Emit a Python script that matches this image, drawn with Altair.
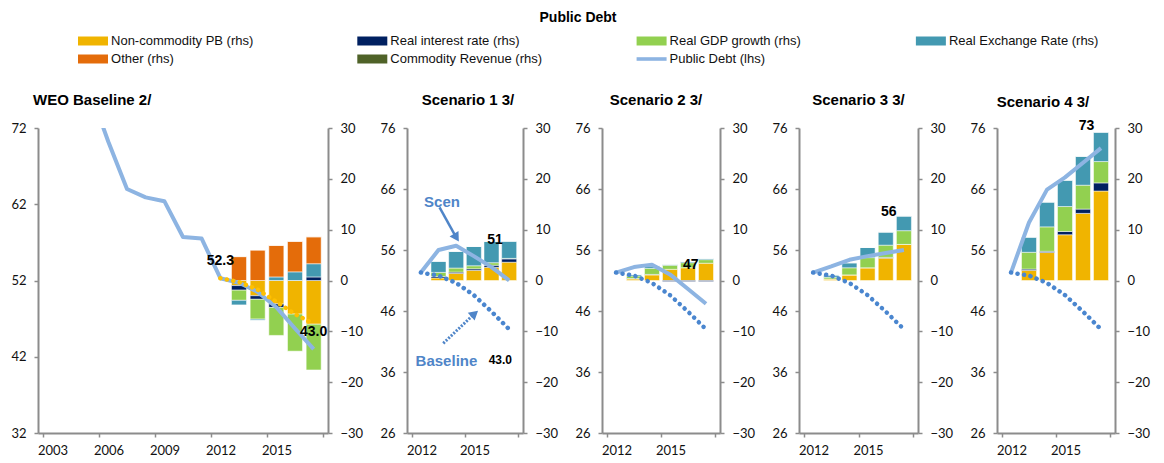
import altair as alt
import pandas as pd

# ---------------- data ----------------
SERIES = ["Non-commodity PB (rhs)", "Real interest rate (rhs)", "Real GDP growth (rhs)",
          "Real Exchange Rate (rhs)", "Other (rhs)", "Commodity Revenue (rhs)"]
COLORS = ["#F0B400", "#002060", "#92D050", "#4399B1", "#E46C0A", "#4F6228"]
DEBT_LABEL = "Public Debt (lhs)"
DEBT_COLOR = "#8DB4E2"
BASE_DOT_COLOR = "#4A86CF"
WEO_DOT_COLOR = "#FFC000"
NOTE_COLOR = "#4F85C8"

hist_years = list(range(2003, 2018))
proj_years = list(range(2012, 2018))
bar_years = list(range(2013, 2018))

weo_debt = [86.0, 82.0, 77.0, 70.2, 64.0, 62.9, 62.4, 57.7, 57.5, 52.3, 51.7, 50.5, 48.5, 45.7, 43.0]
weo_dotted = [52.3, 51.8, 50.8, 49.2, 47.6, 46.3]
baseline_debt = [52.3, 51.8, 50.6, 48.6, 45.9, 43.0]

weo_pb = [-1.0, -3.0, -4.6, -6.6, -8.6]
weo_int = [-0.9, -0.7, -0.7, 0.0, 0.7]
weo_gdp = [-2.0, -3.9, -5.5, -7.3, -9.0]
weo_rer = [-0.9, -0.2, 0.7, 1.7, 2.6]
weo_oth = [4.7, 6.0, 6.2, 6.0, 5.3]
weo_com = [0.0, 0.0, 0.0, 0.0, 0.0]

s1_debt = [52.3, 56.0, 56.7, 55.0, 53.2, 51.0]
s1_pb = [0.5, 1.4, 2.0, 2.6, 3.6]
s1_int = [0.3, 0.25, 0.3, 0.4, 0.65]
s1_gdp = [0.8, 0.8, 0.6, 0.5, 0.1]
s1_rer = [2.2, 3.3, 3.8, 4.2, 3.4]

s2_debt = [52.3, 53.2, 53.6, 52.0, 49.6, 47.2]
s2_pb = [0.3, 1.1, 2.2, 2.5, 3.4]
s2_int = [0.1, 0.1, -0.2, -0.2, -0.2]
s2_gdp = [0.5, 1.2, 0.8, 1.0, 0.7]
s2_rer = [0.3, 0.5, 0.2, 0.25, 0.25]

s3_debt = [52.3, 53.3, 54.4, 55.0, 55.5, 56.0]
s3_pb = [0.3, 1.1, 2.5, 4.4, 7.1]
s3_int = [0.0, 0.0, 0.0, 0.15, 0.0]
s3_gdp = [0.35, 1.4, 2.0, 2.4, 2.7]
s3_rer = [0.45, 1.0, 2.0, 2.6, 2.9]

s4_debt = [52.3, 60.5, 65.9, 67.9, 70.3, 72.7]
s4_pb = [2.0, 5.5, 9.0, 13.2, 17.6]
s4_int = [0.25, 0.25, 0.65, 0.85, 1.6]
s4_gdp = [3.3, 4.8, 4.9, 4.7, 4.2]
s4_rer = [3.0, 4.9, 5.2, 5.7, 5.8]

zeros = [0.0, 0.0, 0.0, 0.0, 0.0]

panel_titles = ["WEO Baseline 2/", "Scenario 1 3/", "Scenario 2 3/", "Scenario 3 3/", "Scenario 4 3/"]

# value labels: (x in years, y in lhs units, text)
weo_lab_x = [2012.0, 2017.0]
weo_lab_y = [54.6, 45.3]
weo_lab_t = ["52.3", "43.0"]
s1_lab_x = [2016.2, 2016.5]
s1_lab_y = [57.6, 37.9]
s1_lab_t = ["51", "43.0"]
s2_lab_x = [2016.15]
s2_lab_y = [53.6]
s2_lab_t = ["47"]
s3_lab_x = [2016.17]
s3_lab_y = [62.3]
s3_lab_t = ["56"]
s4_lab_x = [2016.2]
s4_lab_y = [76.3]
s4_lab_t = ["73"]

# scenario 1 annotations
note_x = [2013.2, 2013.45]
note_y = [63.9, 37.8]
note_t = ["Scen", "Baseline"]
scen_arrow = {"x": 2013.06, "y": 63.0, "x2": 2013.97, "y2": 58.25}
base_arrow = {"x": 2013.27, "y": 40.7, "x2": 2014.98, "y2": 45.4}

# legend layout
leg_col = [0, 1, 2, 3, 0, 1, 2]
leg_row = [0, 0, 0, 0, 1, 1, 1]

NUM_FONT = "Lato"
TXT_FONT = "Liberation Sans"
AX_COLOR = "#8C8C8C"

# ---------------- helpers ----------------
def contrib_df(pb, it, gdp, rer, oth, com):
    rows = []
    for idx, (name, vals) in enumerate(zip(SERIES, [pb, it, gdp, rer, oth, com])):
        for yr, v in zip(bar_years, vals):
            rows.append({"year": yr, "series": name, "idx": idx, "value": v})
    return pd.DataFrame(rows)


def line_df(years, vals):
    return pd.DataFrame({"year": years, "value": vals})


def axis_style():
    return dict(domainColor=AX_COLOR, domainWidth=2, tickColor=AX_COLOR, tickWidth=1.5,
                tickSize=4, labelFont=NUM_FONT, labelFontSize=13, labelColor="#111111",
                grid=False, title=None)


def make_panel(title, title_anchor, title_dx, title_offset, width, x_dom, x_ticks, y_dom, y_ticks,
               debt, dotted, dotted_color, bars, labels, extra=None):
    xscale = alt.Scale(domain=x_dom, nice=False, zero=False)
    last = x_dom[1]
    xaxis = alt.Axis(values=x_ticks,
                     labelExpr="datum.value >= %s ? '' : toString(datum.value + 0.5)" % last,
                     labelOffset=9.5, labelFlush=False, labelOverlap=False,
                     labelPadding=7, **axis_style())
    X = alt.X("year:Q", scale=xscale, axis=xaxis)
    laxis = alt.Axis(orient="left", values=y_ticks, labelPadding=8, **axis_style())
    raxis = alt.Axis(orient="right", values=[-30, -20, -10, 0, 10, 20, 30], labelPadding=8, **axis_style())
    lscale = alt.Scale(domain=y_dom, nice=False, zero=False)
    LY = alt.Y("value:Q", scale=lscale, axis=laxis)

    bar_layer = alt.Chart(bars).mark_bar(size=15, stroke="white", strokeWidth=0.5).encode(
        x=X,
        y=alt.Y("value:Q", stack="zero", scale=alt.Scale(domain=[-30, 30], nice=False, zero=False), axis=raxis),
        color=alt.Color("series:N", scale=alt.Scale(domain=SERIES, range=COLORS), legend=None),
        order=alt.Order("idx:Q", sort="ascending"),
    )
    debt_layer = alt.Chart(debt).mark_line(color=DEBT_COLOR, strokeWidth=4, clip=True,
                                           strokeJoin="round").encode(x=X, y=LY)
    dot_layer = alt.Chart(dotted).mark_line(color=dotted_color, strokeWidth=4.5, strokeDash=[0.1, 6.5],
                                            strokeCap="round", clip=True).encode(x=X, y=LY)
    lab_layer = alt.Chart(labels).mark_text(font=TXT_FONT, fontWeight="bold", color="#000000").encode(
        x=X, y=LY, text="label:N", size=alt.Size("fs:Q", scale=None))
    inner = [debt_layer, dot_layer]
    if extra is not None:
        inner += extra(xscale, xaxis, lscale, laxis)
    inner.append(lab_layer)
    chart = alt.layer(bar_layer, alt.layer(*inner)).resolve_scale(y="independent").properties(
        width=width, height=305,
        title=alt.TitleParams(title, anchor=title_anchor, frame="group", font=TXT_FONT, fontSize=15,
                              fontWeight="bold", color="#000000", dx=title_dx, offset=title_offset))
    return chart


def labels_df(xs, ys, ts, sizes=None):
    if sizes is None:
        sizes = [14] * len(xs)
    return pd.DataFrame({"year": xs, "value": ys, "label": ts, "fs": sizes})


def scen1_notes(xscale, xaxis, lscale, laxis):
    notes = pd.DataFrame({"year": note_x, "value": note_y, "label": note_t})
    note_text = alt.Chart(notes).mark_text(font=TXT_FONT, fontWeight="bold", fontSize=15,
                                           color=NOTE_COLOR).encode(
        x=alt.X("year:Q", scale=xscale, axis=xaxis),
        y=alt.Y("value:Q", scale=lscale, axis=laxis), text="label:N")
    sa = pd.DataFrame([scen_arrow])
    ba = pd.DataFrame([base_arrow])
    sx = alt.X("x:Q", scale=xscale, axis=xaxis)
    sy = alt.Y("y:Q", scale=lscale, axis=laxis)
    hx = alt.X("x2:Q", scale=xscale, axis=xaxis)
    hy = alt.Y("y2:Q", scale=lscale, axis=laxis)
    scen_shaft = alt.Chart(sa).mark_rule(color=NOTE_COLOR, strokeWidth=2.5).encode(
        x=sx, y=sy, x2=alt.X2("x2:Q"), y2=alt.Y2("y2:Q"))
    base_shaft = alt.Chart(ba).mark_rule(color=NOTE_COLOR, strokeWidth=3, strokeDash=[2, 1.5]).encode(
        x=sx, y=sy, x2=alt.X2("x2:Q"), y2=alt.Y2("y2:Q"))
    scen_head = alt.Chart(sa).mark_point(shape="triangle", filled=True, size=110, angle=148,
                                         color=NOTE_COLOR, opacity=1).encode(x=hx, y=hy)
    base_head = alt.Chart(ba).mark_point(shape="triangle", filled=True, size=110, angle=49,
                                         color=NOTE_COLOR, opacity=1).encode(x=hx, y=hy)
    return [scen_shaft, scen_head, base_shaft, base_head, note_text]


# ---------------- panels ----------------
p0 = make_panel(panel_titles[0], "start", -5, 14, 290, [2002.5, 2017.5],
                [2002.5, 2005.5, 2008.5, 2011.5, 2014.5, 2017.5],
                [32, 72], [32, 42, 52, 62, 72],
                line_df(hist_years, weo_debt), line_df(proj_years, weo_dotted), WEO_DOT_COLOR,
                contrib_df(weo_pb, weo_int, weo_gdp, weo_rer, weo_oth, weo_com),
                labels_df(weo_lab_x, weo_lab_y, weo_lab_t))

sc_ticks_x = [2011.5, 2014.5, 2017.5]
sc_ticks_y = [26, 36, 46, 56, 66, 76]
p1 = make_panel(panel_titles[1], "middle", 3, 14, 116, [2011.5, 2017.5], sc_ticks_x, [26, 76], sc_ticks_y,
                line_df(proj_years, s1_debt), line_df(proj_years, baseline_debt), BASE_DOT_COLOR,
                contrib_df(s1_pb, s1_int, s1_gdp, s1_rer, zeros, zeros),
                labels_df(s1_lab_x, s1_lab_y, s1_lab_t, [14, 12]), extra=scen1_notes)
p2 = make_panel(panel_titles[2], "middle", -5, 14, 118, [2011.5, 2017.5], sc_ticks_x, [26, 76], sc_ticks_y,
                line_df(proj_years, s2_debt), line_df(proj_years, baseline_debt), BASE_DOT_COLOR,
                contrib_df(s2_pb, s2_int, s2_gdp, s2_rer, zeros, zeros),
                labels_df(s2_lab_x, s2_lab_y, s2_lab_t))
p3 = make_panel(panel_titles[3], "middle", 0, 14, 119, [2011.5, 2017.5], sc_ticks_x, [26, 76], sc_ticks_y,
                line_df(proj_years, s3_debt), line_df(proj_years, baseline_debt), BASE_DOT_COLOR,
                contrib_df(s3_pb, s3_int, s3_gdp, s3_rer, zeros, zeros),
                labels_df(s3_lab_x, s3_lab_y, s3_lab_t))
p4 = make_panel(panel_titles[4], "middle", -13, 9, 118, [2011.5, 2017.5], sc_ticks_x, [26, 76], sc_ticks_y,
                line_df(proj_years, s4_debt), line_df(proj_years, baseline_debt), BASE_DOT_COLOR,
                contrib_df(s4_pb, s4_int, s4_gdp, s4_rer, zeros, zeros),
                labels_df(s4_lab_x, s4_lab_y, s4_lab_t))

# ---------------- legend ----------------
RECT = "M-1,-0.3H1V0.3H-1Z"
LINE = "M-1,-0.12H1V0.12H-1Z"
leg = pd.DataFrame({
    "col": leg_col, "row": leg_row,
    "label": SERIES + [DEBT_LABEL],
    "color": COLORS + [DEBT_COLOR],
    "shape": [RECT] * 6 + [LINE],
})
LX = alt.X("col:Q", scale=alt.Scale(domain=[-0.197, 3.670], nice=False, zero=False), axis=None)
LYL = alt.Y("row:Q", scale=alt.Scale(domain=[-0.5, 1.5], reverse=True, nice=False, zero=False), axis=None)
leg_sw = alt.Chart(leg).mark_point(filled=True, size=900, opacity=1, strokeWidth=0).encode(
    x=LX, y=LYL, color=alt.Color("color:N", scale=None), shape=alt.Shape("shape:N", scale=None))
leg_tx = alt.Chart(leg).mark_text(align="left", baseline="middle", dx=18, font=TXT_FONT, fontSize=13,
                                  color="#111111").encode(x=LX, y=LYL, text="label:N")
legend = alt.layer(leg_sw, leg_tx).properties(
    width=1080, height=36,
    title=alt.TitleParams("Public Debt", anchor="middle", frame="group", font=TXT_FONT, fontSize=14,
                          fontWeight="bold", color="#000000", offset=7))

row = alt.hconcat(p0, p1, p2, p3, p4, spacing=79, bounds="flush")
chart = alt.vconcat(legend, row, spacing=60, bounds="flush").properties(
    padding={"top": 3, "left": 2, "right": 2, "bottom": 2}, background="white"
).configure_view(stroke=None)

chart.save("out.html", embed_options={"renderer": "svg", "actions": False})
